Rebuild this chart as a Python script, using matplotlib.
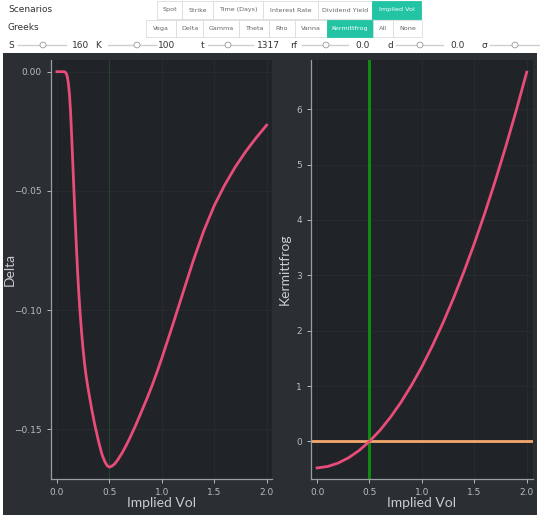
import matplotlib
matplotlib.use("Agg")
import matplotlib.pyplot as plt
from matplotlib.patches import Rectangle, Circle
from matplotlib.lines import Line2D

# data
vol_delta = [0.0, 0.05, 0.07, 0.08, 0.09, 0.10, 0.11, 0.12, 0.13, 0.14, 0.15, 0.16,
             0.17, 0.18, 0.19, 0.20, 0.21, 0.22, 0.235, 0.25, 0.265, 0.28, 0.30, 0.33,
             0.36, 0.40, 0.43, 0.46, 0.48, 0.50, 0.52, 0.55, 0.58, 0.62, 0.66, 0.70,
             0.75, 0.80, 0.85, 0.90, 0.95, 1.00, 1.10, 1.20, 1.30, 1.40, 1.50, 1.60,
             1.70, 1.80, 1.90, 2.00]
delta = [0.0, 0.0, 0.0, -0.0002, -0.0008, -0.0022, -0.0050, -0.0095, -0.0165, -0.0260,
         -0.0365, -0.0470, -0.0575, -0.0675, -0.0770, -0.0858, -0.0935, -0.1003,
         -0.1090, -0.1165, -0.1228, -0.1280, -0.1335, -0.1410, -0.1478, -0.1555,
         -0.1605, -0.1638, -0.1652, -0.1658, -0.1655, -0.1645, -0.1628, -0.1600,
         -0.1568, -0.1532, -0.1484, -0.1432, -0.1380, -0.1325, -0.1265, -0.1202,
         -0.1068, -0.0930, -0.0793, -0.0668, -0.0562, -0.0475, -0.0400, -0.0335,
         -0.0277, -0.0224]

vol_kf = [0.0, 0.1, 0.2, 0.3, 0.4, 0.5, 0.6, 0.7, 0.8, 0.9, 1.0, 1.1, 1.2, 1.3, 1.4,
          1.5, 1.6, 1.7, 1.8, 1.9, 2.0]
kermittfrog = [-0.48, -0.454, -0.393, -0.297, -0.166, 0.0, 0.200, 0.436, 0.706, 1.011,
               1.35, 1.726, 2.136, 2.580, 3.060, 3.574, 4.123, 4.707, 5.326, 5.979, 6.67]

current_vol = 0.5
xticks = [0.0, 0.5, 1.0, 1.5, 2.0]
delta_ticks = [0.00, -0.05, -0.10, -0.15]
kf_ticks = [0, 1, 2, 3, 4, 5, 6]

scenario_buttons = ["Spot", "Strike", "Time (Days)", "Interest Rate", "Dividend Yield", "Implied Vol"]
scenario_edges = [157, 182, 213, 263, 318, 372, 421]
greek_buttons = ["Vega", "Delta", "Gamma", "Theta", "Rho", "Vanna", "Kermittfrog", "All", "None"]
greek_edges = [146, 176, 203, 239, 269, 295, 327, 373, 393, 422]
sliders = [("S", "160", 8, 18, 66, 43, 72), ("K", "100", 95, 108, 156, 137, 158),
           ("t", "1317", 201, 208, 253, 228, 257), ("rf", "0.0", 290, 302, 348, 326, 355),
           ("d", "0.0", 387, 396, 443, 420, 450), ("σ", "", 481, 490, 540, 515, 0)]

W, H = 540, 515
PINK = "#e84c78"
TEAL = "#22c4a4"
FIG_BG = "#2b2e33"
AX_BG = "#202327"
SPINE = "#9a9da2"
TXT = "#b8bbbf"
LABEL = "#c8cbcf"


def fx(x):
    return x / W


def fy(y):
    return 1 - y / H


fig = plt.figure(figsize=(5.4, 5.15), dpi=100, facecolor="white")
plt.rcParams['font.family'] = ['DejaVu Sans']

# dark panel behind the plots
fig.patches.append(Rectangle((fx(3), 0), fx(534), fy(53), transform=fig.transFigure,
                             facecolor=FIG_BG, edgecolor="none", zorder=-10))

# widget rows
fig.text(fx(8), fy(10), "Scenarios", fontsize=6.5, color="#333333", va="center")
fig.text(fx(8), fy(28), "Greeks", fontsize=6.5, color="#333333", va="center")


def button_row(names, edges, y0, y1, active):
    for i, name in enumerate(names):
        x0, x1 = edges[i], edges[i + 1]
        on = name == active
        fig.patches.append(Rectangle((fx(x0), fy(y1)), fx(x1 - x0), (y1 - y0) / H,
                                     transform=fig.transFigure,
                                     facecolor=TEAL if on else "white",
                                     edgecolor=TEAL if on else "#dcdcdc", lw=0.6))
        fig.text(fx((x0 + x1) / 2), fy((y0 + y1) / 2), name, fontsize=4.6,
                 color="white" if on else "#666666", ha="center", va="center")


button_row(scenario_buttons, scenario_edges, 1, 19, "Implied Vol")
button_row(greek_buttons, greek_edges, 20, 37, "Kermittfrog")

for name, val, xl, s0, s1, knob, xv in sliders:
    fig.text(fx(xl), fy(45), name, fontsize=6.5, color="#333333", va="center")
    fig.lines.append(Line2D([fx(s0), fx(s1)], [fy(45), fy(45)], transform=fig.transFigure,
                            color="#cfcfcf", lw=1))
    fig.patches.append(Circle((fx(knob), fy(45)), 3 / W, transform=fig.transFigure,
                              facecolor="white", edgecolor="#9a9a9a", lw=0.6, zorder=3))
    if val:
        fig.text(fx(xv), fy(45), val, fontsize=6.5, color="#333333", va="center")

ax1 = fig.add_axes([fx(51), fy(479), fx(220.7), 419 / H])
ax2 = fig.add_axes([fx(311), fy(479), fx(221.7), 419 / H])

for ax in (ax1, ax2):
    ax.set_facecolor(AX_BG)
    for s in ("top", "right"):
        ax.spines[s].set_visible(False)
    for s in ("left", "bottom"):
        ax.spines[s].set_color(SPINE)
        ax.spines[s].set_linewidth(0.9)
    ax.tick_params(colors=TXT, labelsize=6.5, length=3, width=0.7)
    ax.grid(True, color="#272a2f", lw=0.8)
    ax.set_axisbelow(True)
    ax.set_xticks(xticks)
    ax.set_xlabel("Implied Vol", color=LABEL, fontsize=10, family="Lato", va="center")
    ax.xaxis.set_label_coords(0.5, -24 / 419)

ax1.axvline(current_vol, color="#24412a", lw=0.9, zorder=1)
ax1.plot(vol_delta, delta, color=PINK, lw=2, zorder=3, solid_joinstyle="round")
ax1.set_xlim(-0.056, 2.048)
ax1.set_ylim(-0.1708, 0.0049)
ax1.set_yticks(delta_ticks)
ax1.set_yticklabels(["0.00", "\u22120.05", "\u22120.10", "\u22120.15"])
ax1.set_ylabel("Delta", color=LABEL, fontsize=10, family="Lato", va="center")
ax1.yaxis.set_label_coords(-41 / 220.7, 0.5)

ax2.axvline(current_vol, color="#0e8a0e", lw=2.2, zorder=2)
ax2.axhline(0, color="#f2a86e", lw=2, zorder=2)
ax2.plot(vol_kf, kermittfrog, color=PINK, lw=2, zorder=3, solid_joinstyle="round")
ax2.set_xlim(-0.058, 2.057)
ax2.set_ylim(-0.68, 6.89)
ax2.set_yticks(kf_ticks)
ax2.set_ylabel("Kermittfrog", color=LABEL, fontsize=10, family="Lato", va="center")
ax2.yaxis.set_label_coords(-26 / 221.7, 0.5)

fig.savefig("out.png", dpi=100, facecolor="white")
